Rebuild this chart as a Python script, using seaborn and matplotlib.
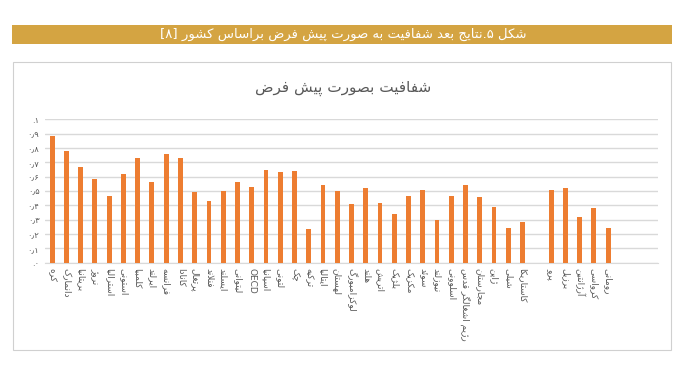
import matplotlib
matplotlib.use("Agg")
import matplotlib.pyplot as plt
import seaborn as sns
import pandas as pd
from matplotlib.patches import Rectangle

# Persian shaping: map letters to presentation forms, then reverse to visual order
JOIN = {'ا': (0xFE8D, 2), 'آ': (0xFE81, 2), 'ب': (0xFE8F, 4), 'پ': (0xFB56, 4), 'ت': (0xFE95, 4),
        'ث': (0xFE99, 4), 'ج': (0xFE9D, 4), 'چ': (0xFB7A, 4), 'ح': (0xFEA1, 4), 'خ': (0xFEA5, 4),
        'د': (0xFEA9, 2), 'ذ': (0xFEAB, 2), 'ر': (0xFEAD, 2), 'ز': (0xFEAF, 2), 'ژ': (0xFB8A, 2),
        'س': (0xFEB1, 4), 'ش': (0xFEB5, 4), 'ص': (0xFEB9, 4), 'ض': (0xFEBD, 4), 'ط': (0xFEC1, 4),
        'ظ': (0xFEC5, 4), 'ع': (0xFEC9, 4), 'غ': (0xFECD, 4), 'ف': (0xFED1, 4), 'ق': (0xFED5, 4),
        'ک': (0xFB8E, 4), 'گ': (0xFB92, 4), 'ل': (0xFEDD, 4), 'م': (0xFEE1, 4), 'ن': (0xFEE5, 4),
        'ه': (0xFEE9, 4), 'و': (0xFEED, 2), 'ی': (0xFBFC, 4), 'ئ': (0xFE89, 4)}


def fa(text):
    chars = list(text)
    out = []
    i = 0
    while i < len(chars):
        c = chars[i]
        if c not in JOIN:
            out.append(c)
            i += 1
            continue
        prev = chars[i - 1] if i > 0 else ''
        link_prev = prev in JOIN and JOIN[prev][1] == 4
        if c == 'ل' and i + 1 < len(chars) and chars[i + 1] in 'اآ':
            lig = {'ا': (0xFEFB, 0xFEFC), 'آ': (0xFEF5, 0xFEF6)}[chars[i + 1]]
            out.append(chr(lig[1] if link_prev else lig[0]))
            i += 2
            continue
        nxt = chars[i + 1] if i + 1 < len(chars) else ''
        base, k = JOIN[c]
        link_next = k == 4 and nxt in JOIN
        if link_prev and link_next:
            f = 3
        elif link_prev:
            f = 1
        elif link_next:
            f = 2
        else:
            f = 0
        out.append(chr(base + f))
        i += 1
    return ''.join(reversed(out))


countries = ['کره', 'دانمارک', 'بریتانیا', 'نروژ', 'استرالیا', 'استونی', 'کلمبیا', 'ایرلند',
             'فرانسه', 'کانادا', 'پرتغال', 'فنلاند', 'ایسلند', 'لیتوانی', 'OECD', 'اسپانیا',
             'لتونی', 'چک', 'ترکیه', 'ایتالیا', 'لهستان', 'لوکزامبورگ', 'هلند', 'اتریش',
             'بلژیک', 'مکزیک', 'سوئد', 'نیوزلند', 'اسلوونی', 'رژیم اشغالگر قدس', 'مجارستان',
             'ژاپن', 'شیلی', 'کاستاریکا']
values = [0.885, 0.78, 0.665, 0.585, 0.465, 0.62, 0.73, 0.56,
          0.76, 0.73, 0.495, 0.43, 0.50, 0.56, 0.525, 0.645,
          0.63, 0.64, 0.235, 0.545, 0.50, 0.41, 0.52, 0.415,
          0.34, 0.465, 0.51, 0.295, 0.465, 0.54, 0.455,
          0.39, 0.245, 0.285]
partners = ['پرو', 'برزیل', 'آرژانتین', 'کرواسی', 'رومانی']
partner_values = [0.51, 0.52, 0.32, 0.38, 0.24]

yticks = [0, 0.1, 0.2, 0.3, 0.4, 0.5, 0.6, 0.7, 0.8, 0.9, 1.0]
ytick_labels = ['.۰', '۰٫۱', '۰٫۲', '۰٫۳', '۰٫۴', '۰٫۵', '۰٫۶', '۰٫۷', '۰٫۸', '۰٫۹', '.۱']

banner = 'شکل ۵.نتایج بعد شفافیت به صورت پیش فرض براساس کشور'
chart_title = 'شفافیت بصورت پیش فرض'

names = [n if n == 'OECD' else fa(n) for n in countries + partners]
df = pd.DataFrame({'country': names, 'value': values + partner_values})
order = names[:len(countries)] + [' '] + names[len(countries):] + ['  ', '   ', '    ']

sns.set_style("white")
plt.rcParams['font.family'] = ['DejaVu Sans']

fig = plt.figure(figsize=(6.84, 3.65), dpi=100)
W, H = 684, 365

# gold banner
fig.patches.append(Rectangle((12 / W, 1 - 44 / H), 660 / W, 19 / H, transform=fig.transFigure,
                             facecolor='#D4A442', edgecolor='none', zorder=-2))
fig.text(343 / W, 1 - 34 / H, '[۸] ' + fa(banner), ha='center', va='center',
         color='white', fontsize=9.5)

# chart border
fig.patches.append(Rectangle((13 / W, 1 - 350 / H), 658 / W, 288 / H, transform=fig.transFigure,
                             facecolor='white', edgecolor='#D0D0D0', linewidth=0.8, zorder=-2))
fig.text(343 / W, 1 - 88 / H, fa(chart_title), ha='center', va='center',
         color='#595959', fontsize=11)

ax = fig.add_axes([45 / W, 1 - 262.7 / H, 613 / W, 143.4 / H])
ax.set_zorder(2)
sns.barplot(data=df, x='country', y='value', order=order, color='#ED7D31',
            width=0.34, saturation=1, linewidth=0, ax=ax, zorder=3)
ax.set_ylim(0, 1.0)
ax.set_xlim(-0.5, len(order) - 0.5)
ax.set_yticks(yticks)
ax.set_yticklabels(ytick_labels, fontsize=6, color='#595959')
ax.yaxis.grid(True, color='#D9D9D9', linewidth=1)
ax.set_axisbelow(True)
ax.set_xlabel('')
ax.set_ylabel('')
for s in ['left', 'right', 'top']:
    ax.spines[s].set_visible(False)
ax.spines['bottom'].set_color('#D9D9D9')
ax.tick_params(axis='both', length=0, pad=4)
ax.set_xticks(range(len(order)))
ax.set_xticklabels(order, rotation=-90, fontsize=6.5, color='#595959')
ax.patch.set_alpha(0)

fig.savefig('out.png', dpi=100)
